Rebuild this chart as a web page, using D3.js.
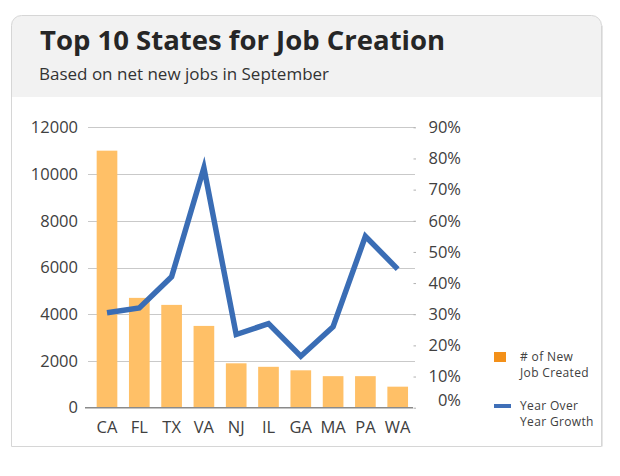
<!DOCTYPE html>
<html>
<head>
<meta charset="utf-8">
<script src="https://cdn.jsdelivr.net/npm/d3@7"></script>
<style>
  html, body { margin: 0; padding: 0; background: #ffffff; }
  svg { display: block; font-family: "Open Sans", "Noto Sans", sans-serif; }
</style>
</head>
<body>
<svg id="chart" width="620" height="476"></svg>
<script>
// ---- data ----
const states = ["CA", "FL", "TX", "VA", "NJ", "IL", "GA", "MA", "PA", "WA"];
const newJobs = [11000, 4700, 4400, 3500, 1900, 1750, 1600, 1350, 1350, 900];
const yoyGrowth = [0.305, 0.32, 0.42, 0.77, 0.235, 0.27, 0.165, 0.26, 0.55, 0.445];
const leftTicks = [0, 2000, 4000, 6000, 8000, 10000, 12000];
const rightTicks = [0, 0.1, 0.2, 0.3, 0.4, 0.5, 0.6, 0.7, 0.8, 0.9];
const title = "Top 10 States for Job Creation";
const subtitle = "Based on net new jobs in September";
const legendLines = ["# of New", "Job Created", "Year Over", "Year Growth"];

const rows = states.map((s, i) => ({ state: s, jobs: newJobs[i], growth: yoyGrowth[i] }));

const svg = d3.select("#chart");

// ---- card ----
const cx0 = 11.5, cy0 = 15.5, cx1 = 601.5, cy1 = 446.5, r = 10, headerBottom = 97;
const cardPath = d3.path();
cardPath.moveTo(cx0, cy1);
cardPath.lineTo(cx0, cy0 + r);
cardPath.arcTo(cx0, cy0, cx0 + r, cy0, r);
cardPath.lineTo(cx1 - r, cy0);
cardPath.arcTo(cx1, cy0, cx1, cy0 + r, r);
cardPath.lineTo(cx1, cy1);
cardPath.closePath();

const clip = svg.append("defs").append("clipPath").attr("id", "cardClip");
clip.append("path").attr("d", cardPath.toString());

svg.append("path").attr("d", cardPath.toString()).attr("fill", "#ffffff");
svg.append("rect")
  .attr("x", cx0).attr("y", cy0).attr("width", cx1 - cx0).attr("height", headerBottom - cy0)
  .attr("fill", "#f2f2f2").attr("clip-path", "url(#cardClip)");
svg.append("path").attr("d", cardPath.toString())
  .attr("fill", "none").attr("stroke", "#d6d6d6").attr("stroke-width", 1);
svg.append("line").attr("x1", cx1 + 1).attr("x2", cx1 + 1).attr("y1", cy0 + r).attr("y2", cy1)
  .attr("stroke", "#e6e6e6").attr("stroke-width", 1);

svg.append("text").attr("x", 40).attr("y", 50)
  .attr("font-size", 27.5).attr("font-weight", 700).attr("fill", "#262626").text(title);
svg.append("text").attr("x", 39).attr("y", 80)
  .attr("font-size", 17).attr("fill", "#333333").text(subtitle);

// ---- scales ----
const x = d3.scaleBand().domain(states).range([90.85, 413.85]).paddingInner(0.36).paddingOuter(0.18);
const yL = d3.scaleLinear().domain([0, 12000]).range([407.7, 127.3]);
const yR = d3.scaleLinear().domain([0, 0.9]).range([407.7, 127.3]);

// gridlines
svg.append("g").selectAll("line").data(leftTicks.slice(1)).join("line")
  .attr("x1", 88).attr("x2", 415)
  .attr("y1", d => Math.round(yL(d)) + 0.5).attr("y2", d => Math.round(yL(d)) + 0.5)
  .attr("stroke", "#c9c9c9").attr("stroke-width", 1);

// bars
svg.append("g").selectAll("rect").data(rows).join("rect")
  .attr("x", d => x(d.state)).attr("width", x.bandwidth())
  .attr("y", d => yL(d.jobs)).attr("height", d => yL(0) - yL(d.jobs))
  .attr("fill", "#ffc067");

// baseline
svg.append("line").attr("x1", 85).attr("x2", 413)
  .attr("y1", yL(0)).attr("y2", yL(0)).attr("stroke", "#8a8a8a").attr("stroke-width", 1.6);

// left axis
const leftAxis = d3.axisLeft(yL).tickValues(leftTicks).tickSize(0).tickPadding(0).tickFormat(d3.format("d"));
const gL = svg.append("g").attr("transform", "translate(78,0)").call(leftAxis);
gL.select(".domain").remove();
gL.selectAll("text").attr("font-size", 16.5).attr("fill", "#404040")
  .attr("font-family", "'Open Sans', sans-serif");

// right axis
const rightAxis = d3.axisRight(yR).tickValues(rightTicks).tickSize(2.5).tickPadding(0).tickFormat(d3.format(".0%"));
const gR = svg.append("g").attr("transform", "translate(413.5,0)").call(rightAxis);
gR.select(".domain").remove();
gR.selectAll("line").attr("stroke", "#b0b0b0");
gR.selectAll("text").attr("font-size", 16.5).attr("fill", "#404040")
  .attr("font-family", "'Open Sans', sans-serif")
  .attr("text-anchor", "end").attr("x", 47.5)
  .attr("dy", d => d === 0 ? "-0.12em" : "0.32em");

// x axis labels
const xAxis = d3.axisBottom(x).tickSize(0).tickPadding(0);
const gX = svg.append("g").attr("transform", "translate(0,433)").call(xAxis);
gX.select(".domain").remove();
gX.selectAll("text").attr("font-size", 16.5).attr("fill", "#404040").attr("dy", 0)
  .attr("font-family", "'Open Sans', sans-serif");

// line
const line = d3.line().x(d => x(d.state) + x.bandwidth() / 2).y(d => yR(d.growth));
svg.append("path").datum(rows).attr("d", line)
  .attr("fill", "none").attr("stroke", "#3a6db5").attr("stroke-width", 5.5)
  .attr("stroke-linejoin", "miter").attr("stroke-miterlimit", 10).attr("stroke-linecap", "butt");

// legend
const lg = svg.append("g");
lg.append("rect").attr("x", 494).attr("y", 352).attr("width", 12).attr("height", 10).attr("fill", "#f39019");
lg.append("rect").attr("x", 494).attr("y", 404).attr("width", 17).attr("height", 4).attr("fill", "#3f6fb8");
const legendY = [360.5, 377, 409.5, 426];
lg.selectAll("text").data(legendLines).join("text")
  .attr("x", 520).attr("y", (d, i) => legendY[i])
  .attr("font-size", 12).attr("letter-spacing", 0.35).attr("fill", "#404040")
  .text(d => d);
</script>
</body>
</html>
